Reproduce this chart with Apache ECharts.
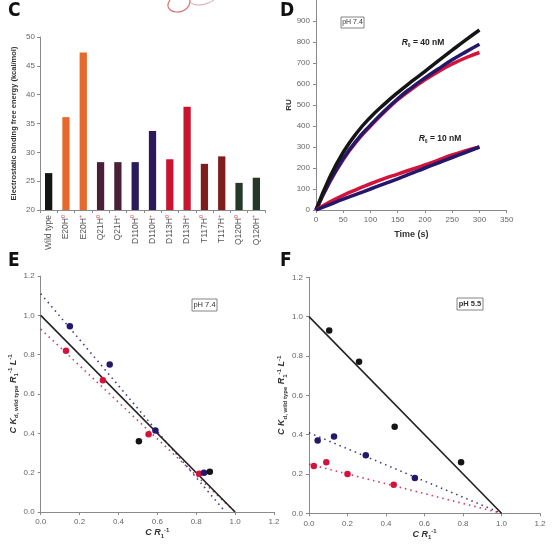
<!DOCTYPE html>
<html><head><meta charset="utf-8">
<script src="https://cdn.jsdelivr.net/npm/echarts@6/dist/echarts.min.js"></script>
<style>html,body{margin:0;padding:0;background:#fff}#c{width:557px;height:545px}</style>
</head><body><div id="c"></div>
<script>
// ---- Panel C data ----
const barCategories = ['Wild type','E20H0','E20H+','Q21H0','Q21H+','D110H0','D110H+','D113H0','D113H+','T117H0','T117H+','Q120H0','Q120H+'];
const barValues = [26.4,36.1,47.3,28.3,28.3,28.3,33.7,28.8,37.9,28.0,29.3,24.7,25.6];
const barYTicks = [20,25,30,35,40,45,50];
// ---- Panel D data ----
const timeS   = [0,25,50,75,100,125,150,175,200,225,250,275,300];
const black40 = [0,155,275,368,442,503,559,611,660,711,761,810,857];
const blue40  = [0,135,245,333,404,470,530,582,629,673,715,753,789];
const red40   = [0,132,240,328,400,465,525,575,620,660,695,725,750];
const red10   = [0,38,70,98,125,149,171,193,215,238,262,282,300];
const blue10  = [0,26,52,76,100,124,148,174,200,225,250,275,300];
// ---- Panel E data (pH 7.4) ----
const eBlack = [[0.505,0.36],[0.87,0.205]];
const eBlue  = [[0.15,0.945],[0.355,0.75],[0.59,0.415],[0.84,0.2]];
const eRed   = [[0.13,0.82],[0.32,0.67],[0.555,0.395],[0.815,0.195]];
const eBlackFit = [[0,1.0],[1.0,0]];
const eBlueFit  = [[0,1.11],[0.95,0]];
const eRedFit   = [[0,0.93],[1.0,0]];
// ---- Panel F data (pH 5.5) ----
const fBlack = [[0.105,0.93],[0.26,0.77],[0.445,0.44],[0.79,0.26]];
const fBlue  = [[0.045,0.37],[0.13,0.39],[0.295,0.295],[0.55,0.18]];
const fRed   = [[0.025,0.24],[0.09,0.26],[0.2,0.2],[0.44,0.145]];
const fBlackFit = [[0,1.0],[1.0,0]];
const fBlueFit  = [[0,0.41],[1.0,0]];
const fRedFit   = [[0,0.25],[1.0,0]];

const barColors = ['#141414','#e5692c','#e5692c','#4a2038','#4a2038','#2a1a5c','#2a1a5c','#c8142e','#c8142e','#7f1d1d','#7f1d1d','#263828','#263828'];
const BLK='#151515', NAVY='#25186a', RED='#d2133c';
const TF = 'Liberation Sans, Arial, sans-serif';
const tickLbl = {fontSize:8, color:'#666', fontFamily:TF};
const axLine = {lineStyle:{color:'#8a8a8a', width:1}};
const axTick = {show:true, length:3, lineStyle:{color:'#8a8a8a'}};

function catLabel(c){
  const m = c.match(/^(.*H)([0+])$/);
  if(!m) return '{n|'+c+'}';
  return '{n|'+m[1]+'}{s|'+m[2]+'}';
}

const chart = echarts.init(document.getElementById('c'), null, {renderer:'canvas'});
const subRich = {
  b:{fontSize:9, fontWeight:'bold', fontStyle:'italic', color:'#333', fontFamily:TF},
  sub:{fontSize:6, fontWeight:'bold', color:'#333', verticalAlign:'bottom', fontFamily:TF, padding:[6,0,0,0]},
  sup:{fontSize:6, fontWeight:'bold', color:'#333', verticalAlign:'top', fontFamily:TF, padding:[0,0,6,0]}
};
const xNameEF = '{b|C R}{sub|1}{sup|-1}';
const yNameEF = '{b|C K}{sub|d, wild type}{b| R}{sub|1}{sup|-1}{b| L}{sup|-1}';

function lineSeries(xi, data, color, dotted){
  return {type:'line', xAxisIndex:xi, yAxisIndex:xi, data:data, symbol:'none', silent:true,
    lineStyle:{color:color, width:1.6, type:dotted?[1.5,4]:'solid', opacity:dotted?0.85:1}, z:2};
}
function scat(xi, data, color){
  return {type:'scatter', xAxisIndex:xi, yAxisIndex:xi, data:data, symbolSize:6.5, itemStyle:{color:color, opacity:1}, z:3};
}
function curve(data, color){
  return {type:'line', xAxisIndex:1, yAxisIndex:1, data:timeS.map((t,i)=>[t,data[i]]), smooth:true, symbol:'none', lineStyle:{color:color, width:3.5}};
}
const fmt1 = v => v.toFixed(1);

const option = {
  animation:false,
  grid:[
    {left:40, top:37, width:225, height:173},
    {left:316, top:-4.8, width:190.7, height:214.8},
    {left:40.7, top:276, width:233.3, height:236},
    {left:309, top:277.3, width:231, height:236}
  ],
  xAxis:[
    {gridIndex:0, type:'category', data:barCategories, axisLine:axLine,
     axisTick:{show:true, length:3, lineStyle:{color:'#8a8a8a'}},
     axisLabel:{rotate:90, interval:0, margin:5, formatter:catLabel,
       rich:{n:{fontSize:8.5, color:'#555', fontFamily:TF}, s:{fontSize:5.5, color:'#d23', fontFamily:TF, verticalAlign:'top', padding:[0,0,5,0]}}}},
    {gridIndex:1, type:'value', min:0, max:350, interval:50, axisLine:axLine, axisTick:axTick, splitLine:{show:false},
     axisLabel:Object.assign({margin:6}, tickLbl), name:'Time (s)', nameLocation:'middle', nameGap:20,
     nameTextStyle:{fontSize:9, fontWeight:'bold', color:'#333', fontFamily:TF}},
    {gridIndex:2, type:'value', min:0, max:1.2, interval:0.2, axisLine:axLine, axisTick:axTick, splitLine:{show:false},
     axisLabel:Object.assign({margin:6, formatter:fmt1}, tickLbl), name:xNameEF, nameLocation:'middle', nameGap:13,
     nameTextStyle:{rich:subRich}},
    {gridIndex:3, type:'value', min:0, max:1.2, interval:0.2, axisLine:axLine, axisTick:axTick, splitLine:{show:false},
     axisLabel:Object.assign({margin:6, formatter:fmt1}, tickLbl), name:xNameEF, nameLocation:'middle', nameGap:13,
     nameTextStyle:{rich:subRich}}
  ],
  yAxis:[
    {gridIndex:0, type:'value', min:barYTicks[0], max:barYTicks[barYTicks.length-1], interval:5, axisLine:Object.assign({show:true},axLine), axisTick:axTick, splitLine:{show:false},
     axisLabel:Object.assign({margin:5}, tickLbl), name:'Electrostatic binding free energy (kcal/mol)', nameLocation:'middle', nameGap:22,
     nameTextStyle:{fontSize:7.5, fontWeight:'bold', color:'#333', fontFamily:TF}},
    {gridIndex:1, type:'value', min:0, max:1000, interval:100, axisLine:Object.assign({show:true},axLine), axisTick:axTick, splitLine:{show:false},
     axisLabel:Object.assign({margin:6, showMaxLabel:false, formatter:v => v>=1000?'':String(v)}, tickLbl), name:'RU', nameLocation:'middle', nameGap:20,
     nameTextStyle:{fontSize:8, fontWeight:'bold', color:'#333', fontFamily:TF}},
    {gridIndex:2, type:'value', min:0, max:1.2, interval:0.2, axisLine:Object.assign({show:true},axLine), axisTick:axTick, splitLine:{show:false},
     axisLabel:Object.assign({margin:6, formatter:fmt1}, tickLbl), name:yNameEF, nameLocation:'middle', nameGap:17,
     nameTextStyle:{rich:subRich}},
    {gridIndex:3, type:'value', min:0, max:1.2, interval:0.2, axisLine:Object.assign({show:true},axLine), axisTick:axTick, splitLine:{show:false},
     axisLabel:Object.assign({margin:6, formatter:fmt1}, tickLbl), name:yNameEF, nameLocation:'middle', nameGap:19,
     nameTextStyle:{rich:subRich}}
  ],
  series:[
    {type:'bar', xAxisIndex:0, yAxisIndex:0, barWidth:'42%',
     data:barValues.map((v,i)=>({value:v, itemStyle:{color:barColors[i]}}))},
    curve(red40, RED), curve(blue40, NAVY), curve(black40, BLK), curve(red10, RED), curve(blue10, NAVY),
    // Panel E
    lineSeries(2, eRedFit, RED, true),
    lineSeries(2, eBlueFit, NAVY, true),
    lineSeries(2, eBlackFit, '#222', false),
    scat(2, eRed, RED), scat(2, eBlue, NAVY), scat(2, eBlack, BLK),
    // Panel F
    lineSeries(3, fRedFit, RED, true),
    lineSeries(3, fBlueFit, NAVY, true),
    lineSeries(3, fBlackFit, '#222', false),
    scat(3, fRed, RED), scat(3, fBlue, NAVY), scat(3, fBlack, BLK)
  ],
  graphic:[
    {type:'text', left:8, top:2, style:{text:'C', font:'bold 19px "DejaVu Sans Condensed", "DejaVu Sans", sans-serif', fill:'#111'}},
    {type:'text', left:280, top:2, style:{text:'D', font:'bold 19px "DejaVu Sans Condensed", "DejaVu Sans", sans-serif', fill:'#111'}},
    {type:'text', left:8, top:252, style:{text:'E', font:'bold 19px "DejaVu Sans Condensed", "DejaVu Sans", sans-serif', fill:'#111'}},
    {type:'text', left:280, top:252, style:{text:'F', font:'bold 19px "DejaVu Sans Condensed", "DejaVu Sans", sans-serif', fill:'#111'}},
    {type:'bezierCurve', shape:{x1:170, y1:0, cpx1:160, cpy1:14, cpx2:190, cpy2:18, x2:190, y2:0}, style:{stroke:'#d97070', lineWidth:1.2, fill:null}},
    {type:'bezierCurve', shape:{x1:190, y1:2, cpx1:196, cpy1:8, cpx2:208, cpy2:4, x2:214, y2:0}, style:{stroke:'#d8a0a0', lineWidth:1, fill:null}},
    // pH boxes
    {type:'rect', shape:{x:341, y:17, width:23, height:11}, style:{fill:'#fff', stroke:'#666', lineWidth:0.8}},
    {type:'text', x:352.5, y:22.5, style:{text:'pH 7.4', fontSize:7, fill:'#333', fontFamily:TF, align:'center', verticalAlign:'middle'}},
    {type:'rect', shape:{x:192, y:299, width:25, height:12}, style:{fill:'#fff', stroke:'#666', lineWidth:0.8}},
    {type:'text', x:204.5, y:305, style:{text:'pH 7.4', fontSize:7.5, fill:'#333', fontFamily:TF, align:'center', verticalAlign:'middle'}},
    {type:'rect', shape:{x:457, y:298, width:26, height:12}, style:{fill:'#fff', stroke:'#666', lineWidth:0.8}},
    {type:'text', x:470, y:304, style:{text:'pH 5.5', fontSize:7.5, fontWeight:'bold', fill:'#333', fontFamily:TF, align:'center', verticalAlign:'middle'}},
    // concentration labels
    {type:'text', x:423, y:43, style:{text:'{r|R}{s|0}{t| = 40 nM}', align:'center', verticalAlign:'middle',
      rich:{r:{fontSize:8.5, fontWeight:'bold', fontStyle:'italic', fill:'#222', fontFamily:TF}, s:{fontSize:5, fontWeight:'bold', fill:'#222', fontFamily:TF, verticalAlign:'bottom', padding:[5,0,0,0]}, t:{fontSize:8.5, fontWeight:'bold', fill:'#222', fontFamily:TF}}}},
    {type:'text', x:440, y:139, style:{text:'{r|R}{s|0}{t| = 10 nM}', align:'center', verticalAlign:'middle',
      rich:{r:{fontSize:8.5, fontWeight:'bold', fontStyle:'italic', fill:'#222', fontFamily:TF}, s:{fontSize:5, fontWeight:'bold', fill:'#222', fontFamily:TF, verticalAlign:'bottom', padding:[5,0,0,0]}, t:{fontSize:8.5, fontWeight:'bold', fill:'#222', fontFamily:TF}}}}
  ]
};
chart.setOption(option);
</script></body></html>
